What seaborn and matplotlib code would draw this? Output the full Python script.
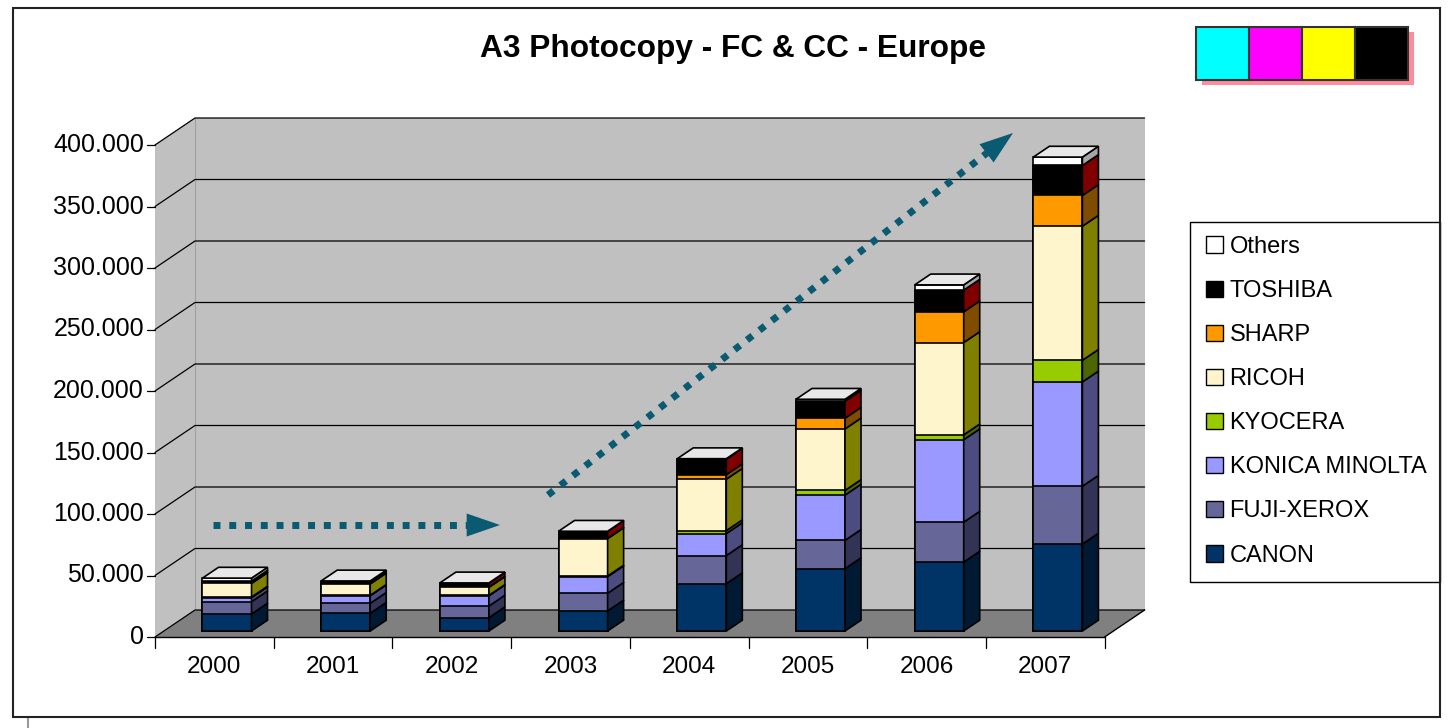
import numpy as np
import matplotlib
matplotlib.use("Agg")
import matplotlib.pyplot as plt
from matplotlib.patches import Polygon, Rectangle, Patch
import seaborn as sns

# ---- data (units) ----
years = ["2000", "2001", "2002", "2003", "2004", "2005", "2006", "2007"]
brands = ["CANON", "FUJI-XEROX", "KONICA MINOLTA", "KYOCERA",
          "RICOH", "SHARP", "TOSHIBA", "Others"]
canon = [13800, 14400, 10800, 16300, 38500, 50700, 56000, 70700]
fuji_xerox = [10000, 8100, 9500, 14400, 22800, 23000, 32500, 47000]
konica_minolta = [3300, 6200, 8400, 13500, 17900, 36800, 67000, 84800]
kyocera = [500, 300, 300, 500, 2400, 3800, 4000, 17600]
ricoh = [11100, 9300, 6500, 30400, 41800, 50000, 75000, 109000]
sharp = [300, 300, 300, 400, 3700, 8700, 25000, 25000]
toshiba = [1500, 1500, 3000, 5400, 12500, 13800, 17600, 24400]
others = [2500, 600, 300, 200, 500, 1600, 4300, 6800]
y_ticks = [0, 50000, 100000, 150000, 200000, 250000, 300000, 350000, 400000]

series = [canon, fuji_xerox, konica_minolta, kyocera, ricoh, sharp, toshiba, others]
front_colors = ["#003366", "#666699", "#9999FF", "#99CC00",
                "#FFF5CC", "#FF9900", "#000000", "#FFFFFF"]
side_colors = ["#001A33", "#333355", "#4C4C80", "#4C6600",
               "#808000", "#804C00", "#800000", "#A6A6A6"]
cmyk = ["#00FFFF", "#FF00FF", "#FFFF00", "#000000"]

sns.set_theme(style="white")
plt.rcParams['font.family'] = ['Liberation Sans', 'DejaVu Sans']
plt.rcParams['text.color'] = 'black'

W, H = 1453, 728
fig = plt.figure(figsize=(W / 100, H / 100), dpi=100)
ax = fig.add_axes([0, 0, 1, 1])

# pixel <-> data mapping (axes fill the whole figure)
X0, XS = 227.0, 118.7      # first bar centre, px per category
Y0, YS = 631.0, 0.00123    # bar base, px per unit


def px(x):
    return (x - X0) / XS


def py(y):
    return (Y0 - y) / YS


n = len(years)
XL, YF = px(155), py(637)          # front-left corner of the floor
XR = XL + n
DX, DY = 40 / XS, 27 / YS          # depth of the chart box
YMAX = y_ticks[-1]
BW, BD = 0.413, 0.4                # bar width, bar depth fraction
bdx, bdy = BD * DX, BD * DY

# walls and floor
ax.add_patch(Polygon([(XL + DX, YF + DY), (XR + DX, YF + DY),
                      (XR + DX, YF + DY + YMAX), (XL + DX, YF + DY + YMAX)],
                     fc="#C0C0C0", ec="none", zorder=0))
ax.add_patch(Polygon([(XL, YF), (XL + DX, YF + DY),
                      (XL + DX, YF + DY + YMAX), (XL, YF + YMAX)],
                     fc="#C0C0C0", ec="none", zorder=0))
ax.add_patch(Polygon([(XL, YF), (XR, YF), (XR + DX, YF + DY), (XL + DX, YF + DY)],
                     fc="#808080", ec="none", zorder=0))
ax.plot([XL + DX, XL + DX], [YF + DY, YF + DY + YMAX], color="#A0A0A0", lw=0.8, zorder=1)

# gridlines, y ticks and labels
for v in y_ticks:
    ax.plot([XL, XL + DX, XR + DX], [YF + v, YF + DY + v, YF + DY + v],
            color="black", lw=0.9, zorder=1)
    ax.plot([XL - 8 / XS, XL], [YF + v, YF + v], color="black", lw=0.9, zorder=1)
    ax.text(XL - 11 / XS, YF + v, f"{v:,}".replace(",", "."),
            ha="right", va="center", fontsize=18)

# category axis
ax.plot([XL, XR], [YF, YF], color="black", lw=1, zorder=1)
ax.plot([XR, XR + DX], [YF, YF + DY], color="black", lw=1, zorder=1)
for k in range(n + 1):
    ax.plot([XL + k, XL + k], [YF, YF - 11 / YS], color="black", lw=0.9, zorder=1)
for k, yr in enumerate(years):
    ax.text(XL + k + 0.5, py(667), yr, ha="center", va="center", fontsize=17.5)

# stacked front faces: cumulative totals drawn from the top down
pos = np.arange(n)
cum = np.cumsum(np.array(series), axis=0)
for j in range(len(brands) - 1, -1, -1):
    sns.barplot(x=pos, y=cum[j], native_scale=True, orient="x", width=BW,
                color=front_colors[j], saturation=1, errorbar=None,
                edgecolor="black", linewidth=1.2, zorder=3, ax=ax)

# side and top faces
for i in range(n):
    xr = i + BW / 2
    bottom = 0
    for j in range(len(brands)):
        top = cum[j][i]
        ax.add_patch(Polygon([(xr, bottom), (xr + bdx, bottom + bdy),
                              (xr + bdx, top + bdy), (xr, top)],
                             fc=side_colors[j], ec="black", lw=1.2, zorder=3))
        bottom = top
    ax.add_patch(Polygon([(i - BW / 2, bottom), (xr, bottom),
                          (xr + bdx, bottom + bdy), (i - BW / 2 + bdx, bottom + bdy)],
                         fc="#E8E8E8", ec="black", lw=1.2, zorder=3))

# trend arrows
arrow_c = "#0A5A72"
for (x0, y0), (xb, yb), (xt, yt) in [((213, 525), (467, 525), (500, 525)),
                                      ((548, 495), (987, 153), (1013, 133))]:
    ax.plot([px(x0), px(xb)], [py(y0), py(yb)], color=arrow_c, lw=5,
            ls=(0, (1, 1.27)), dash_capstyle="butt", zorder=5)
    ax.annotate("", xy=(px(xt), py(yt)), xytext=(px(xb), py(yb)),
                arrowprops=dict(arrowstyle="-|>,head_length=2.4,head_width=0.83",
                                mutation_scale=10, color=arrow_c, lw=0,
                                shrinkA=0, shrinkB=0), zorder=5)

# title
ax.text(px(732.5), py(49), "A3 Photocopy - FC & CC - Europe", ha="center",
        va="center", fontsize=22.8, fontweight="bold", color="black")

# CMYK swatch with pink shadow
ax.add_patch(Rectangle((px(1202), py(85)), 212 / XS, 53 / YS, fc="#FF8C9C", ec="none", zorder=4))
for k, c in enumerate(cmyk):
    ax.add_patch(Rectangle((px(1196 + 53 * k), py(80)), 53 / XS, 53 / YS,
                           fc=c, ec="#333333", lw=1.5, zorder=5))

# legend
ax.add_patch(Rectangle((px(1190), py(582)), 250 / XS, 360 / YS, fc="white",
                       ec="black", lw=1, zorder=4))
handles = [Patch(fc=front_colors[j], ec="black", lw=1) for j in range(len(brands) - 1, -1, -1)]
labels = [brands[j] for j in range(len(brands) - 1, -1, -1)]
ax.legend(handles, labels, loc="upper left", bbox_to_anchor=(1206 / W, 1 - 236 / H),
          bbox_transform=fig.transFigure, frameon=False, fontsize=17,
          handlelength=0.7, handleheight=0.7, handletextpad=0.3,
          labelspacing=0.935, borderpad=0, borderaxespad=0)

# outer border
ax.add_patch(Rectangle((px(12.5), py(716.5)), 1427.5 / XS, 708.5 / YS, fill=False,
                       ec="#222222", lw=1.5, zorder=6))
ax.plot([px(28), px(28)], [py(717), py(728)], color="#999999", lw=1.5)

ax.set_xlim(px(0), px(W))
ax.set_ylim(py(H), py(0))
ax.axis("off")

fig.savefig("out.png", dpi=100, facecolor="white")
